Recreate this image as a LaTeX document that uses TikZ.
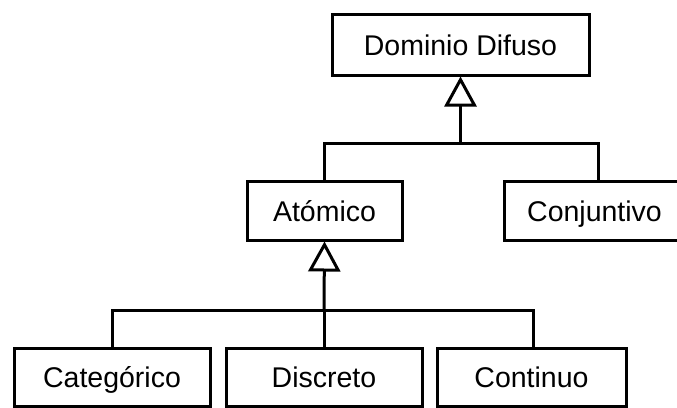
\documentclass[tikz,border=0pt]{standalone}
\usepackage{fontspec}
\setmainfont{Liberation Sans}
\usetikzlibrary{arrows.meta}
\begin{document}
\begin{tikzpicture}[x=1pt,y=-1pt,
  cls/.style={draw=black, line width=3pt, fill=white, inner sep=0pt,
    text height=21pt, text depth=0pt, font=\fontsize{28.5}{30}\selectfont},
  link/.style={draw=black, line width=3pt},
  inherit/.style={link, -{Triangle[open, length=30pt, width=32pt, line width=3pt]}}]
  \useasboundingbox (0,0) rectangle (677,407);
  \clip (0,0) rectangle (677,407);
  % class boxes
  \node[cls, minimum width=257pt, minimum height=61pt] (dom) at (460.5,44.5) {Dominio Difuso};
  \node[cls, minimum width=155pt, minimum height=59pt] (ato) at (324.5,210.5) {Atómico};
  \node[cls, minimum width=181pt, minimum height=59pt] (con) at (594.5,210.5) {Conjuntivo};
  \node[cls, minimum width=196pt, minimum height=58pt] (cat) at (112,377) {Categórico};
  \node[cls, minimum width=196pt, minimum height=58pt] (dis) at (324,377) {Discreto};
  \node[cls, minimum width=189pt, minimum height=58pt] (cnt) at (531.5,377) {Continuo};
  % junctions of the generalisation trees
  \coordinate (j1) at (460.5,143);
  \coordinate (j2) at (324,310);
  % first level
  \draw[link] (ato.north) |- (j1) -| ([xshift=3.5pt]con.north);
  \draw[inherit] (j1) -- (dom.south);
  % second level
  \draw[link] (cat.north) |- (j2) -| ([xshift=1.5pt]cnt.north);
  \draw[link] (dis.north) -- (j2);
  \draw[inherit] (j2) -- (ato.south);
\end{tikzpicture}
\end{document}
